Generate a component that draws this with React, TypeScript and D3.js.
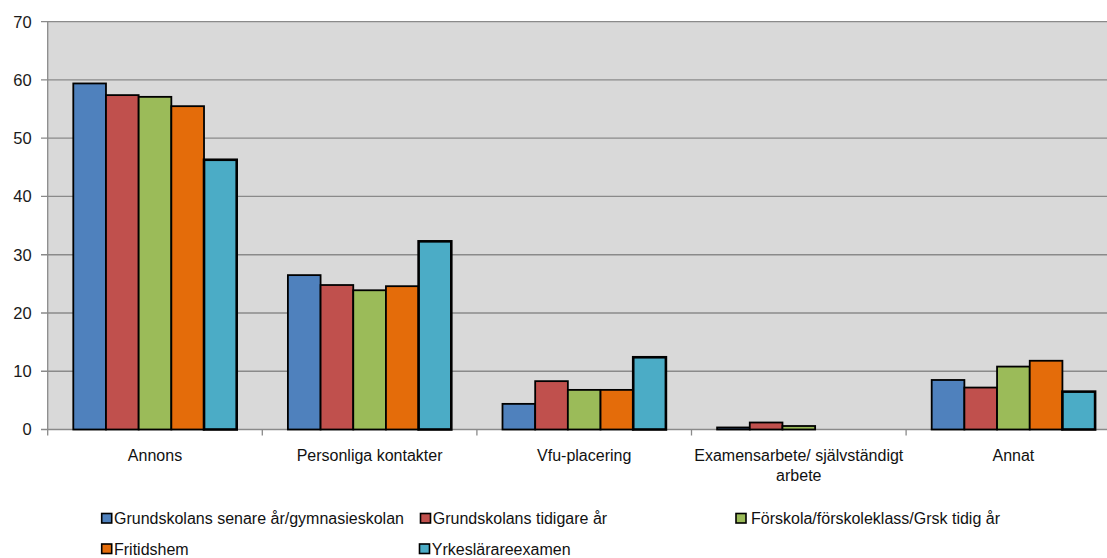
import React from "react";
import * as d3 from "d3";

const categories = ["Annons", "Personliga kontakter", "Vfu-placering", "Examensarbete/ självständigt|arbete", "Annat"];
const seriesNames = [
  "Grundskolans senare år/gymnasieskolan",
  "Grundskolans tidigare år",
  "Förskola/förskoleklass/Grsk tidig år",
  "Fritidshem",
  "Yrkeslärareexamen",
];
const s1 = [59.4, 26.5, 4.4, 0.35, 8.5];
const s2 = [57.4, 24.8, 8.3, 1.2, 7.2];
const s3 = [57.1, 23.9, 6.8, 0.6, 10.8];
const s4 = [55.5, 24.6, 6.8, 0, 11.8];
const s5 = [46.3, 32.3, 12.4, 0, 6.5];
const seriesValues = [s1, s2, s3, s4, s5];
const colors = ["#4F81BD", "#C0504D", "#9BBB59", "#E46C0A", "#4BACC6"];
const yTicks = [0, 10, 20, 30, 40, 50, 60, 70];

export default function App() {
  const W = 1107, H = 558;
  const left = 47.7, top = 21.7, bottom = 429.5;
  const catW = 214.6;
  const x = d3.scaleBand<string>().domain(categories).range([left, left + catW * categories.length]).paddingInner(0).paddingOuter(0);
  const inner = d3.scaleBand<number>().domain(d3.range(5)).range([25.6, catW - 25.6]).padding(0);
  const y = d3.scaleLinear().domain([0, 70]).range([bottom, top]);
  const font = "'Liberation Sans', Arial, sans-serif";
  const legendPos = [
    [101.7, 524], [420.5, 524], [736, 524], [101.7, 554.5], [419.5, 554.5],
  ];
  return (
    <div style={{ position: "fixed", left: 0, top: 0 }}>
      <svg width={W} height={H} style={{ display: "block", background: "#fff" }} fontFamily={font}>
        <rect x={left} y={top} width={W - left} height={bottom - top} fill="#D9D9D9" />
        {yTicks.map((t) => (
          <g key={t}>
            <line x1={41} x2={W} y1={y(t)} y2={y(t)} stroke="#8A8A8A" strokeWidth={1.3} />
            <text x={31.7} y={y(t)} dy="0.36em" textAnchor="end" fontSize={16.5} fill="#1a1a1a">{t}</text>
          </g>
        ))}
        <line x1={left} x2={left} y1={top} y2={bottom} stroke="#8A8A8A" strokeWidth={1.3} />
        {d3.range(categories.length + 1).map((i) => (
          <line key={i} x1={left + i * catW} x2={left + i * catW} y1={bottom} y2={bottom + 6} stroke="#8A8A8A" strokeWidth={1.3} />
        ))}
        {categories.map((c, ci) => (
          <g key={c}>
            {seriesValues.map((vals, si) => {
              const bx = (x(c) as number) + (inner(si) as number);
              const v = vals[ci];
              if (v <= 0) return null;
              return (
                <rect key={si} x={bx} y={y(v)} width={inner.bandwidth()} height={bottom - y(v)}
                  fill={colors[si]} stroke="#000" strokeWidth={si === 4 ? 2.6 : 1.8} />
              );
            })}
            {c.split("|").map((line, li) => (
              <text key={li} x={(x(c) as number) + catW / 2} y={461 + li * 19.5}
                textAnchor="middle" fontSize={16} fill="#111">{line}</text>
            ))}
          </g>
        ))}
        {seriesNames.map((n, i) => (
          <g key={n}>
            <rect x={legendPos[i][0]} y={legendPos[i][1] - 10.5} width={10} height={9.5} fill={colors[i]} stroke="#000" strokeWidth={1.6} />
            <text x={legendPos[i][0] + (i === 2 ? 15 : 12.3)} y={legendPos[i][1]} fontSize={16} fill="#111">{n}</text>
          </g>
        ))}
      </svg>
    </div>
  );
}
